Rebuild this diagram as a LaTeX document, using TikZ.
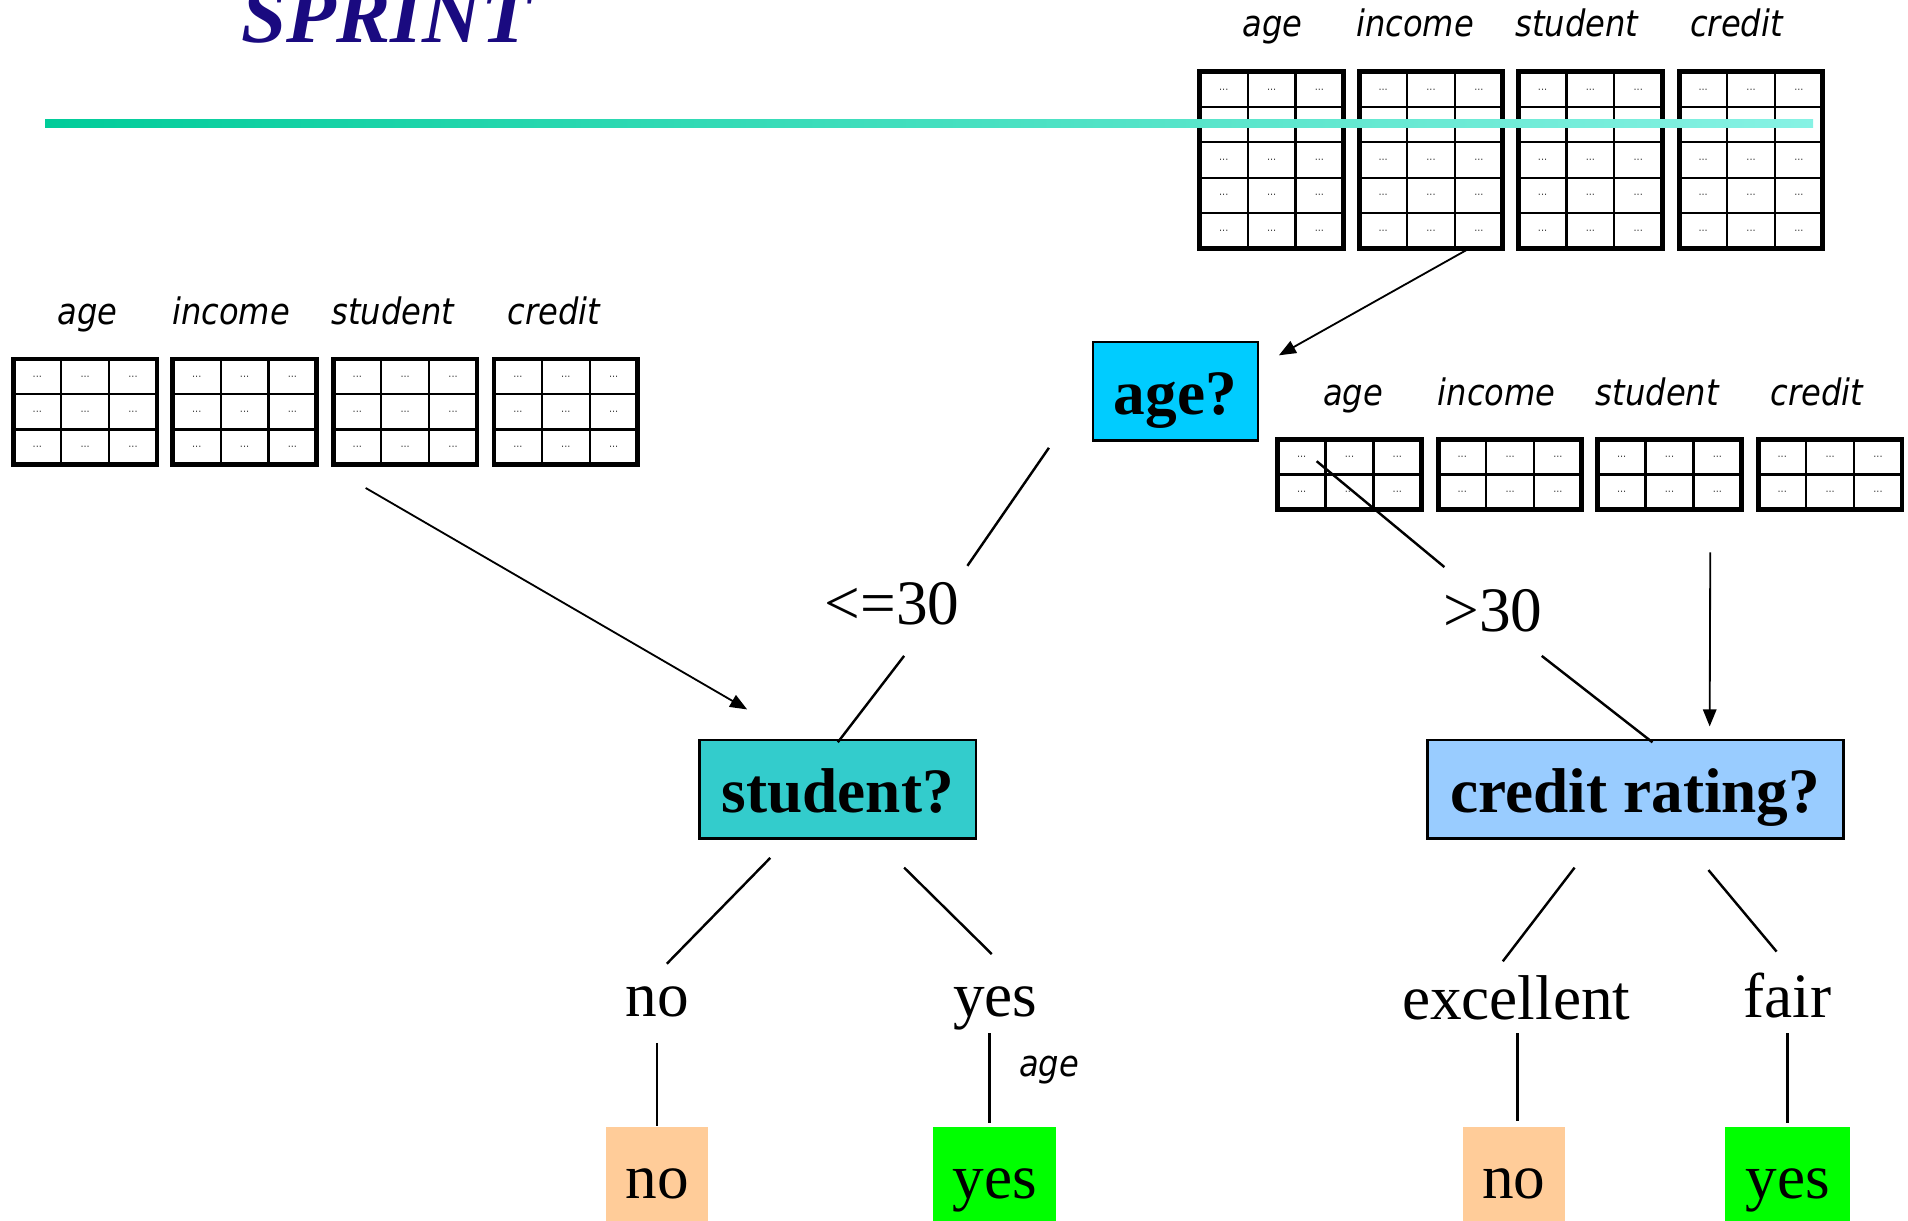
\documentclass[tikz,border=0pt]{standalone}
\usepackage{fontspec}
\setmainfont{Liberation Serif}
\newfontfamily\lblfont[FakeStretch=0.88]{DejaVu Sans}
\usetikzlibrary{calc,arrows.meta}
\definecolor{titleblue}{RGB}{26,10,128}
\definecolor{agefill}{RGB}{0,204,255}
\definecolor{studfill}{RGB}{51,204,204}
\definecolor{credfill}{RGB}{153,204,255}
\definecolor{nofill}{RGB}{255,204,153}
\definecolor{yesfill}{RGB}{0,255,0}
\definecolor{barleft}{RGB}{0,204,153}
\definecolor{barright}{RGB}{135,242,228}

% attribute list: name, left x, top y, number of rows (3 columns each)
\newcommand\datatable[4]{%
  \node[tblframe, minimum height=#4*14.5pt, anchor=north west] (#1) at (#2,#3) {};
  \foreach \cc in {1,2}
    \draw[tblgrid] ($(#1.north west)+(\cc*39.33,0)$) -- ($(#1.south west)+(\cc*39.33,0)$);
  \ifnum#4>1
  \foreach \rr in {2,...,#4}
    \draw[tblgrid] ($(#1.north west)+(0,\rr*29-29)$) -- ($(#1.north east)+(0,\rr*29-29)$);
  \fi
  \foreach \rr in {1,...,#4}
    \foreach \cc in {1,2,3}
      \node[celldots] at ($(#1.north west)+(\cc*39.33-19.67,\rr*29-14.5)$) {...};
}

\begin{document}
\begin{tikzpicture}[x=0.5pt,y=-0.5pt,
  tblframe/.style={draw, line width=2pt, inner sep=0pt, outer sep=0pt, minimum width=59pt},
  tblgrid/.style={line width=0.9pt},
  celldots/.style={inner sep=0pt, font=\lblfont\fontsize{4.5}{5}\selectfont, text=black!75},
  colname/.style={anchor=base, inner sep=0pt, font=\lblfont\itshape\fontsize{15}{18}\selectfont},
  decision/.style={draw, line width=1pt, anchor=base, inner sep=0pt, text height=30pt, text depth=10.5pt, font=\bfseries\fontsize{26}{30}\selectfont},
  branch/.style={anchor=base, inner sep=0pt, font=\fontsize{26}{30}\selectfont},
  leafbox/.style={anchor=base, inner sep=0pt, text height=29.5pt, text depth=12.5pt, font=\fontsize{26}{30}\selectfont},
  treeline/.style={line width=1pt},
  feed/.style={line width=0.75pt, -{Triangle[length=7pt,width=5.5pt]}},
]
\useasboundingbox (0,0) rectangle (1568,1003);

% title
\node[anchor=base west, inner sep=0pt, text=titleblue,
      font=\bfseries\itshape\fontsize{33.5}{36}\selectfont] (title) at (198,35) {SPRINT};

% full attribute lists
\foreach \nm/\lx in {ta1/986, ta2/1117, ta3/1248, ta4/1380} { \datatable{\nm}{\lx}{59}{5} }
\node[colname] (ta1c) at (1046,30) {age};
\node[colname] (ta2c) at (1163,30) {income};
\node[colname] (ta3c) at (1296,30) {student};
\node[colname] (ta4c) at (1427,30) {credit};

% header bar
\shade[left color=barleft, right color=barright] (37,98) rectangle (1490,105);

% lists for age <= 30
\foreach \nm/\lx in {tl1/11, tl2/142, tl3/274, tl4/406} { \datatable{\nm}{\lx}{295}{3} }
\node[colname] (tl1c) at (72,267) {age};
\node[colname] (tl2c) at (190,267) {income};
\node[colname] (tl3c) at (323,267) {student};
\node[colname] (tl4c) at (455,267) {credit};

% lists for age > 30
\foreach \nm/\lx in {tm1/1050, tm2/1182, tm3/1313, tm4/1445} { \datatable{\nm}{\lx}{361}{2} }
\node[colname] (tm1c) at (1112,333) {age};
\node[colname] (tm2c) at (1230,333) {income};
\node[colname] (tm3c) at (1362,333) {student};
\node[colname] (tm4c) at (1493,333) {credit};

% decision nodes
\node[decision, fill=agefill, minimum width=68pt] (age) at (966,341) {age?};
\node[decision, fill=studfill, minimum width=113.5pt] (student) at (688.5,668) {student?};
\node[decision, fill=credfill, minimum width=171pt] (credit) at (1344,668) {credit rating?};

% branch labels
\node[branch] (le30) at (733,513) {<=30};
\node[branch] (gt30) at (1227,519) {>30};
\node[branch] (sno) at (540,835) {no};
\node[branch] (syes) at (818,835) {yes};
\node[branch] (cexc) at (1246,838) {excellent};
\node[branch] (cfair) at (1469,836) {fair};
\node[colname] (yesattr) at (862,885) {age};

% leaves
\node[leafbox, fill=nofill, minimum width=42pt] (leaf1) at (540,985) {no};
\node[leafbox, fill=yesfill, minimum width=50.5pt] (leaf2) at (817.5,985) {yes};
\node[leafbox, fill=nofill, minimum width=42pt] (leaf3) at (1244,985) {no};
\node[leafbox, fill=yesfill, minimum width=51pt] (leaf4) at (1469,985) {yes};

% tree edges
\draw[treeline] ($(age.south)+(-104,5)$) -- ($(le30.base)+(62,-48)$);
\draw[treeline] ($(le30.base)+(10,26)$) -- ($(student.north)+(0,3)$);
\draw[treeline] ($(age.south east)+(47,16)$) -- ($(gt30.base)+(-40,-53)$);
\draw[treeline] ($(gt30.base)+(40,20)$) -- ($(credit.north)+(14,3)$);
\draw[treeline] ($(student.south)+(-55.5,15)$) -- ($(sno.base)+(8,-43)$);
\draw[treeline] ($(student.south)+(54.5,23)$) -- ($(syes.base)+(-3,-51)$);
\draw[treeline] ($(sno.base)+(0,22)$) -- (leaf1.north);
\draw[treeline] ($(syes.base)+(-5,14)$) -- ($(leaf2.north)+(-4.5,-3)$);
\draw[treeline] ($(credit.south)+(-50,23)$) -- ($(cexc.base)+(-11,-48)$);
\draw[treeline] ($(credit.south)+(60,25)$) -- ($(cfair.base)+(-9,-54)$);
\draw[treeline] ($(cexc.base)+(1,11)$) -- ($(leaf3.north)+(3,-4)$);
\draw[treeline] ($(cfair.base)+(0,13)$) -- ($(leaf4.north)+(0,-3)$);

% attribute lists passed to the nodes
\draw[feed] ($(ta2.south)+(30,1)$) -- ($(age.north east)+(16,12)$);
\draw[feed] ($(tl3.south)+(-32.5,19)$) -- ($(student.north west)+(40,-24)$);
\draw[feed] ($(tm3.south)+(33.5,35)$) -- ($(credit.north)+(61,-10)$);
\end{tikzpicture}
\end{document}
